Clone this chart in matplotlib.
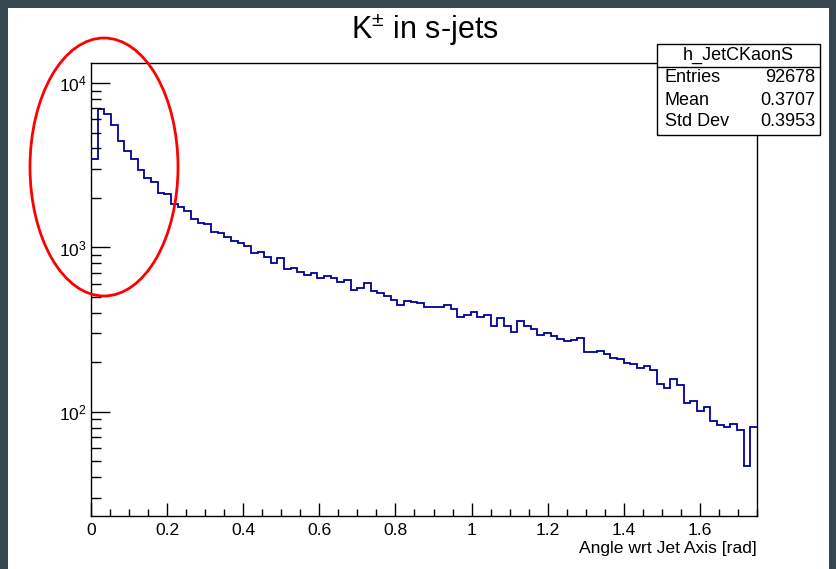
import numpy as np
import matplotlib
matplotlib.use("Agg")
import matplotlib.pyplot as plt
from matplotlib.patches import Ellipse, Rectangle
from matplotlib.lines import Line2D
from matplotlib.ticker import MultipleLocator, LogLocator, FixedLocator, FuncFormatter, NullFormatter

plt.rcParams['font.family'] = ['Liberation Sans', 'DejaVu Sans']
plt.rcParams['mathtext.fontset'] = 'custom'
plt.rcParams['mathtext.rm'] = 'Liberation Sans'
plt.rcParams['mathtext.it'] = 'Liberation Sans:italic'
plt.rcParams['mathtext.bf'] = 'Liberation Sans:bold'

# histogram h_JetCKaonS: 100 bins on [0, 1.75] rad
x_lo, x_hi = 0.0, 1.75
counts = [
    3440, 6950, 6500, 5580, 4420, 3860, 3440, 2940, 2660, 2490,
    2150, 2125, 1845, 1755, 1667, 1495, 1416, 1390, 1248, 1231,
    1164, 1096, 1060, 1026, 923, 932, 879, 801, 865, 739,
    752, 707, 678, 695, 650, 672, 656, 621, 631, 552,
    567, 612, 540, 532, 508, 478, 446, 474, 465, 457,
    433, 433, 433, 448, 421, 379, 386, 407, 377, 386,
    335, 370, 335, 305, 355, 335, 318, 294, 303, 288,
    279, 271, 273, 280, 233, 233, 236, 226, 212, 210,
    198, 197, 186, 191, 180, 147, 139, 158, 146, 114,
    117, 101, 107, 88, 83, 81, 85, 78, 47, 81,
]
stat_names = ["Entries", "Mean", "Std Dev"]
stat_values = ["92678", "0.3707", "0.3953"]
hist_name = "h_JetCKaonS"

W, H = 837, 569


def fx(px):
    return px / W


def fy(py):
    return 1 - py / H


fig = plt.figure(figsize=(W / 100, H / 100), dpi=100)
fig.patch.set_facecolor('#37474f')
fig.add_artist(Rectangle((fx(8), 0), fx(829) - fx(8), fy(8), transform=fig.transFigure,
                         facecolor='white', edgecolor='none', zorder=0))

ax = fig.add_axes([fx(91), fy(516), fx(757) - fx(91), fy(63) - fy(516)])
edges = np.linspace(x_lo, x_hi, len(counts) + 1)
ax.stairs(counts, edges, color='#000099', linewidth=1.3, baseline=None)

ax.set_yscale('log')
ax.set_xlim(x_lo, x_hi)
ax.set_ylim(23.3, 13230)

for s in ax.spines.values():
    s.set_linewidth(1.0)

ax.xaxis.set_major_locator(MultipleLocator(0.2))
ax.xaxis.set_minor_locator(MultipleLocator(0.05))
ax.xaxis.set_major_formatter(FuncFormatter(lambda v, p: f"{v:g}"))
ax.yaxis.set_major_locator(FixedLocator([1e2, 1e3, 1e4]))
ax.yaxis.set_major_formatter(FuncFormatter(lambda v, p: rf"$10^{{{int(round(np.log10(v)))}}}$"))
ax.yaxis.set_minor_locator(LogLocator(base=10, subs=np.arange(2, 10)))
ax.yaxis.set_minor_formatter(NullFormatter())

ax.tick_params(which='both', direction='in', top=False, right=False, width=1.0, labelsize=12.6)
ax.tick_params(axis='x', which='major', length=9.1, pad=5)
ax.tick_params(axis='x', which='minor', length=4.8)
ax.tick_params(axis='y', which='major', length=13.7, pad=3)
ax.tick_params(axis='y', which='minor', length=7.2)

ax.set_xlabel('Angle wrt Jet Axis [rad]', loc='right', fontsize=12.6, labelpad=2)

fig.text(fx(425), fy(30), r'K$^{\pm}$ in s-jets', ha='center', va='center', fontsize=22)

# stats box
bx0, bx1, by0, by1 = 657, 820, 44, 135
fig.add_artist(Rectangle((fx(bx0), fy(by1)), fx(bx1) - fx(bx0), fy(by0) - fy(by1),
                         transform=fig.transFigure, facecolor='white', edgecolor='black',
                         linewidth=1.0, zorder=5))
fig.add_artist(Line2D([fx(bx0), fx(bx1)], [fy(67), fy(67)], transform=fig.transFigure,
                      color='black', linewidth=1.0, zorder=6))
fig.text(fx((bx0 + bx1) / 2), fy(55), hist_name, ha='center', va='center', fontsize=13, zorder=7)
for i, (name, val) in enumerate(zip(stat_names, stat_values)):
    yy = fy(78 + 22 * i)
    fig.text(fx(665), yy, name, ha='left', va='center', fontsize=13, zorder=7)
    fig.text(fx(815), yy, val, ha='right', va='center', fontsize=13, zorder=7)

# highlight of the low-angle peak
fig.add_artist(Ellipse((fx(104), fy(167)), fx(178) - fx(30), fy(38) - fy(296),
                       transform=fig.transFigure, fill=False, edgecolor='red',
                       linewidth=2.0, zorder=10))

fig.savefig('out.png', dpi=100, facecolor=fig.get_facecolor())
